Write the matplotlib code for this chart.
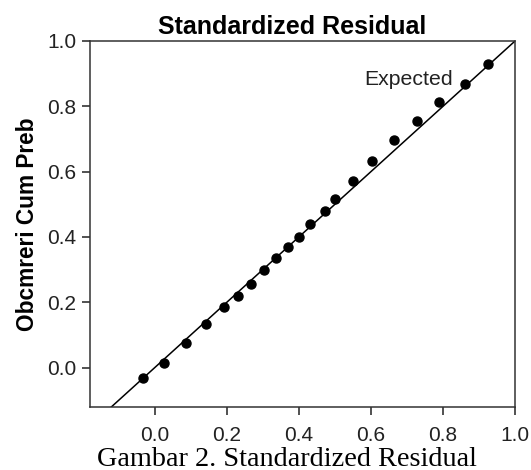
import numpy as np
import matplotlib.pyplot as plt

# observed cumulative probability vs expected (P-P plot)
expected = [-0.034, 0.026, 0.086, 0.143, 0.193, 0.231, 0.268, 0.302, 0.336, 0.369, 0.401,
            0.431, 0.472, 0.500, 0.549, 0.604, 0.664, 0.727, 0.790, 0.861, 0.925]
observed = [-0.031, 0.015, 0.074, 0.133, 0.184, 0.219, 0.257, 0.300, 0.335, 0.368, 0.400,
            0.439, 0.479, 0.515, 0.571, 0.632, 0.696, 0.756, 0.813, 0.867, 0.931]
ticks = [0.0, 0.2, 0.4, 0.6, 0.8, 1.0]

plt.rcParams['font.family'] = ['Liberation Sans', 'DejaVu Sans']

fig = plt.figure(figsize=(5.31, 4.70), dpi=100)
ax = fig.add_axes([0.1695, 0.1347, 0.8005, 0.7781])

xmin, ymin = -0.18, -0.12
ax.plot([xmin, 1.0], [xmin, 1.0], color='black', lw=1.1, zorder=2)
ax.plot(expected, observed, 'o', color='black', ms=6.5, zorder=3)

ax.set_xlim(xmin, 1.0)
ax.set_ylim(ymin, 1.0)
ax.set_xticks(ticks)
ax.set_yticks(ticks)
ax.set_xticklabels(['%.1f' % t for t in ticks])
ax.set_yticklabels(['%.1f' % t for t in ticks])
ax.tick_params(direction='out', length=6, width=1.1, labelsize=15, colors='#222222')
ax.tick_params(axis='x', pad=8)
ax.tick_params(axis='y', pad=4)
for s in ax.spines.values():
    s.set_linewidth(1.1)
    s.set_color('#333333')

ax.text(0.826, 0.883, 'Expected', fontsize=15.3, ha='right', va='center', color='#222222')
ax.set_title('Standardized Residual', fontsize=18, fontweight='bold', pad=5, x=0.475)
ax.set_ylabel('Obcmreri Cum Preb', fontsize=16.3, fontweight='bold', labelpad=6)

fig.text(0.541, 0.0095, 'Gambar 2. Standardized Residual', fontsize=20.3,
         family=['Liberation Serif', 'DejaVu Serif'], ha='center', va='baseline')

fig.savefig('out.png', dpi=100)
